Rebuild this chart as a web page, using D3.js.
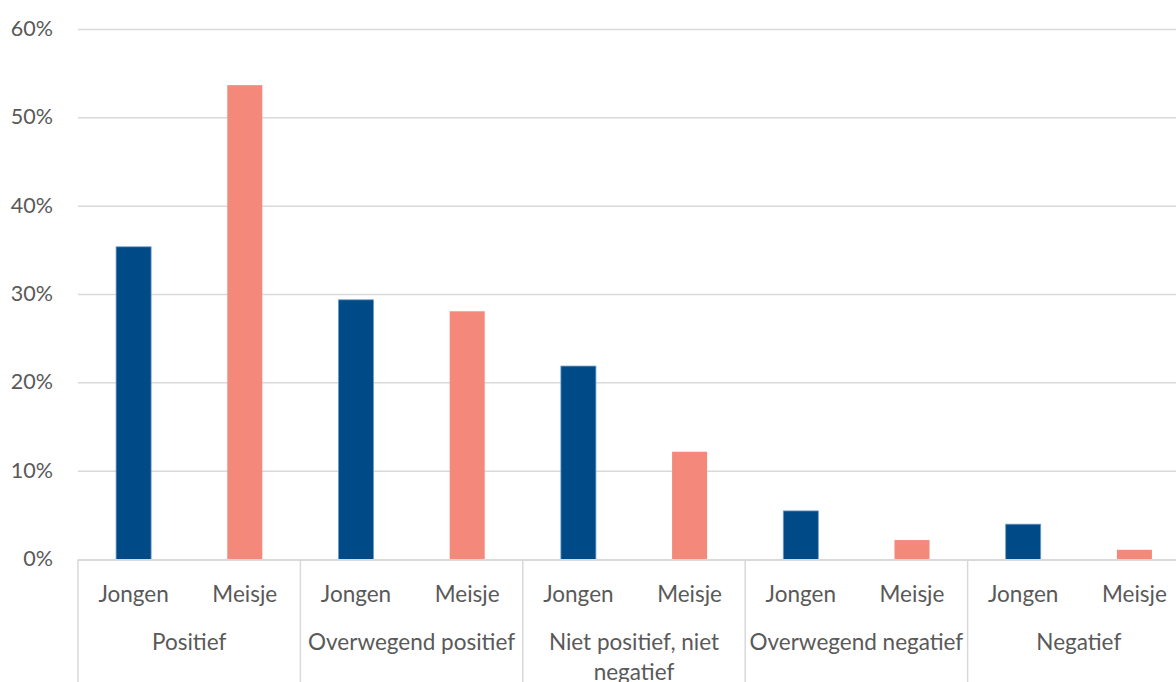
<!DOCTYPE html>
<html>
<head>
<meta charset="utf-8">
<script src="https://cdn.jsdelivr.net/npm/d3@7"></script>
<style>
  html, body { margin: 0; padding: 0; background: #fff; }
  svg { display: block; }
  text { font-family: Lato, "Open Sans", sans-serif; fill: #595959; }
</style>
</head>
<body>
<svg id="chart" width="1176" height="682"></svg>
<script>
const categories = ["Positief", "Overwegend positief", "Niet positief, niet negatief", "Overwegend negatief", "Negatief"];
const groups = ["Jongen", "Meisje"];
const jongen = [0.354, 0.294, 0.219, 0.055, 0.040];
const meisje = [0.537, 0.281, 0.122, 0.022, 0.011];
const yTicks = [0, 0.1, 0.2, 0.3, 0.4, 0.5, 0.6];
const colors = { Jongen: "#004a87", Meisje: "#f4897b" };

const svg = d3.select("#chart");
const plotLeft = 78, plotRight = 1190, plotTop = 29.5, plotBottom = 559.5;

const x0 = d3.scaleBand().domain(categories).range([plotLeft, plotRight]).padding(0);
const x1 = d3.scaleBand().domain(groups).range([0, x0.bandwidth()]).paddingInner(0.685).paddingOuter(0.3425);
const y = d3.scaleLinear().domain([0, 0.6]).range([plotBottom, plotTop]);

// gridlines
svg.append("g").selectAll("line").data(yTicks.filter(d => d > 0)).join("line")
  .attr("x1", plotLeft).attr("x2", 1176)
  .attr("y1", d => y(d)).attr("y2", d => y(d))
  .attr("stroke", "#d9d9d9").attr("stroke-width", 1.5);

// y axis labels
const yAxis = d3.axisLeft(y).tickValues(yTicks).tickFormat(d3.format(".0%")).tickSize(0).tickPadding(0);
const yg = svg.append("g").attr("transform", `translate(53,0)`).call(yAxis);
yg.select(".domain").remove();
yg.selectAll("text").attr("font-size", 21.5).attr("fill", "#595959")
  .attr("font-family", "Lato, 'Open Sans', sans-serif").attr("dy", "0.28em");

// bars
const data = categories.map((c, i) => ({ cat: c, vals: [{ g: "Jongen", v: jongen[i] }, { g: "Meisje", v: meisje[i] }] }));
const gBars = svg.append("g").selectAll("g").data(data).join("g")
  .attr("transform", d => `translate(${x0(d.cat)},0)`);
gBars.selectAll("rect").data(d => d.vals).join("rect")
  .attr("x", d => x1(d.g))
  .attr("width", x1.bandwidth())
  .attr("y", d => y(d.v))
  .attr("height", d => y(0) - y(d.v))
  .attr("fill", d => colors[d.g])
  .attr("stroke", d => d.g === "Jongen" ? "#6f9ccb" : "none")
  .attr("stroke-width", 0.8);

// x axis line
svg.append("line").attr("x1", plotLeft).attr("x2", 1176).attr("y1", y(0) + 0.5).attr("y2", y(0) + 0.5)
  .attr("stroke", "#d9d9d9").attr("stroke-width", 2);

// category separators
const seps = categories.map(c => x0(c));
svg.append("g").selectAll("line").data(seps).join("line")
  .attr("x1", d => d).attr("x2", d => d)
  .attr("y1", y(0)).attr("y2", 682)
  .attr("stroke", "#d9d9d9").attr("stroke-width", 1.5);

// sub-category labels
gBars.selectAll("text.sub").data(d => d.vals).join("text")
  .attr("class", "sub")
  .attr("x", d => x1(d.g) + x1.bandwidth() / 2)
  .attr("y", 601.5)
  .attr("text-anchor", "middle")
  .attr("font-size", 22.5)
  .text(d => d.g);

// category labels with wrapping
function wrap(textSel, width) {
  textSel.each(function () {
    const t = d3.select(this);
    const words = t.text().split(/\s+/);
    const xPos = t.attr("x");
    t.text(null);
    let line = [];
    let tspan = t.append("tspan").attr("x", xPos).attr("dy", 0);
    words.forEach(w => {
      line.push(w);
      tspan.text(line.join(" "));
      if (tspan.node().getComputedTextLength() > width && line.length > 1) {
        line.pop();
        tspan.text(line.join(" "));
        line = [w];
        tspan = t.append("tspan").attr("x", xPos).attr("dy", 30).text(w);
      }
    });
  });
}
gBars.append("text")
  .attr("x", x0.bandwidth() / 2)
  .attr("y", 650)
  .attr("text-anchor", "middle")
  .attr("font-size", 22.5)
  .text(d => d.cat)
  .call(wrap, 222);
</script>
</body>
</html>
